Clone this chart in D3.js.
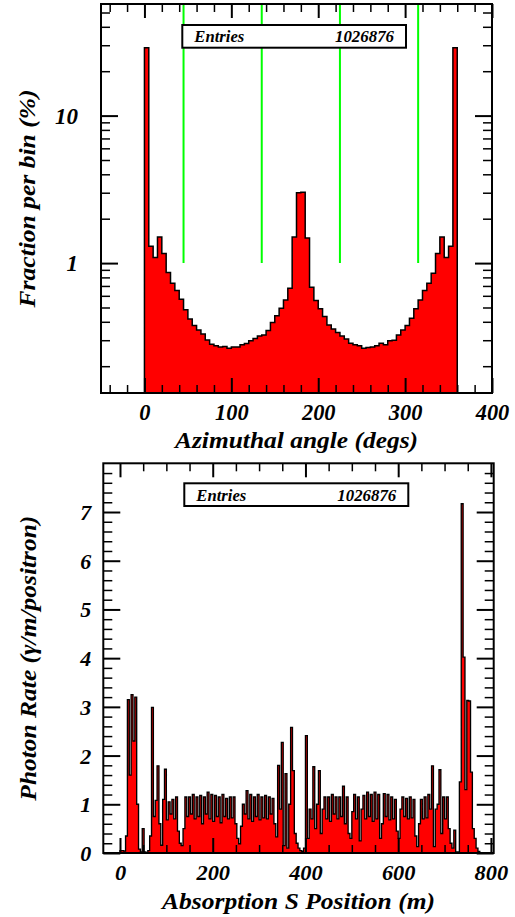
<!DOCTYPE html>
<html>
<head>
<meta charset="utf-8">
<script src="https://cdn.jsdelivr.net/npm/d3@7"></script>
<style>
  body { margin: 0; background: #fff; }
</style>
</head>
<body>
<div id="chart"></div>
<script>
// --- top: azimuthal angle, 5 deg bins from 0 to 360, fraction per bin (%)
const angleStart = 0;
const angleBinWidth = 5;
const angleFractions = [
  28.8, 1.30, 1.09, 1.50, 1.16, 0.863, 0.731, 0.652, 0.569, 0.482,
  0.417, 0.377, 0.352, 0.331, 0.301, 0.282, 0.275, 0.270, 0.272, 0.265,
  0.270, 0.270, 0.279, 0.285, 0.297, 0.308, 0.321, 0.326, 0.349, 0.395,
  0.439, 0.494, 0.563, 0.676, 1.50, 3.00, 3.02, 1.48, 0.687, 0.557,
  0.490, 0.434, 0.381, 0.358, 0.338, 0.321, 0.306, 0.286, 0.280, 0.275,
  0.265, 0.268, 0.270, 0.275, 0.286, 0.280, 0.297, 0.300, 0.326, 0.352,
  0.377, 0.423, 0.490, 0.563, 0.652, 0.731, 0.855, 1.16, 1.50, 1.09,
  1.30, 28.8
];
const angleMarkers = [45, 135, 225, 315];
const angleMarkerTop = 1;
const angleTicks = [0, 100, 200, 300, 400];
const fractionTicks = [1, 10];

// --- bottom: absorption S position, 4 m bins from 0 m, photon rate
const sStart = 0;
const sBinWidth = 4;
const photonRates = [
  0.05, 0.05, 0.04, 0.35, 3.15, 1.6, 3.25, 2.3, 3.2, 1.0,
  0.08, 0.02, 0.5, 0.02, 0.0, 0.05, 0.35, 2.99, 0.75, 1.08,
  1.79, 0.6, 0.16, 1.1, 1.72, 0.68, 1.05, 0.8, 1.1, 0.7,
  1.15, 0.45, 0.2, 0.15, 0.5, 1.15, 0.75, 1.15, 0.8, 1.2,
  0.7, 1.15, 0.75, 1.18, 0.6, 1.15, 0.8, 1.25, 0.7, 1.2,
  0.65, 1.18, 0.75, 1.15, 0.62, 1.2, 0.75, 1.12, 0.7, 1.15,
  0.72, 1.15, 0.6, 0.3, 0.19, 0.55, 1.0, 0.8, 1.28, 0.7,
  1.2, 0.65, 1.15, 0.75, 1.2, 0.68, 1.15, 0.72, 1.18, 0.7,
  1.15, 0.8, 1.12, 0.6, 0.33, 1.8, 0.9, 2.27, 0.15, 1.63,
  0.1, 1.0, 2.58, 1.69, 0.4, 0.2, 0.1, 0.05, 0.03, 0.1,
  2.41, 0.3, 0.9, 0.7, 1.77, 0.5, 1.0, 1.69, 0.4, 0.9,
  1.15, 0.7, 1.15, 0.65, 1.2, 0.8, 1.15, 0.7, 1.15, 0.75,
  1.37, 0.6, 1.15, 0.4, 0.3, 0.85, 1.2, 0.7, 1.15, 0.25,
  0.9, 1.18, 0.7, 1.25, 0.75, 1.2, 0.65, 1.25, 0.7, 1.2,
  0.3, 0.6, 1.22, 0.75, 1.2, 0.68, 1.15, 0.7, 1.1, 0.45,
  0.3, 0.9, 1.15, 0.75, 1.12, 0.7, 1.15, 0.72, 1.1, 0.35,
  0.13, 0.6, 1.1, 0.7, 1.15, 0.72, 1.2, 0.9, 1.79, 0.13,
  0.9, 1.0, 1.71, 0.4, 1.15, 0.7, 1.15, 0.5, 0.2, 0.1,
  0.47, 0.02, 0.02, 1.46, 7.17, 4.02, 1.3, 3.13, 3.12, 1.66,
  0.5, 0.3, 0.1, 0.03, 0.0
];
const sTicks = [0, 200, 400, 600, 800];
const rateTicks = [0, 1, 2, 3, 4, 5, 6, 7];

const entries = '1026876';
const serif = '"Liberation Serif", "Times New Roman", Times, "DejaVu Serif", serif';

const svg = d3.select('#chart')
  .append('svg')
  .attr('width', 515)
  .attr('height', 917)
  .attr('font-family', serif)
  .attr('font-weight', 'bold')
  .attr('font-style', 'italic');

function stepPath(values, start, w, x, y, base) {
  let d = `M${x(start)},${base}`;
  values.forEach((v, i) => {
    d += `L${x(start + i * w)},${y(v)}L${x(start + (i + 1) * w)},${y(v)}`;
  });
  return d + `L${x(start + values.length * w)},${base}Z`;
}

function styleAxis(g, width) {
  g.attr('font-family', null);
  g.select('.domain').remove();
  g.selectAll('.tick line').attr('stroke', '#000').attr('stroke-width', width);
}

// stretch a text to the width it has in the original
function fit(sel, width) {
  sel.attr('textLength', width).attr('lengthAdjust', 'spacingAndGlyphs');
}

function drawFrame(box, x, y, opts) {
  const g = svg.append('g');
  const { left, right, top, bottom } = box;

  // x axis, bottom (ticks pointing up) and top
  const xb = g.append('g').attr('transform', `translate(0,${bottom})`)
    .call(d3.axisBottom(x).tickValues(opts.xTicks).tickSize(-15).tickFormat(d3.format('d')));
  styleAxis(xb, 2);
  xb.selectAll('text')
    .attr('y', 27).attr('dy', null).attr('font-size', opts.labelSize)
    .each(function(d) { fit(d3.select(this), String(d).length * 11.2); });
  const xbm = g.append('g').attr('transform', `translate(0,${bottom})`)
    .call(d3.axisBottom(x).tickValues(opts.xMinor).tickSize(-8).tickFormat(''));
  styleAxis(xbm, 1.5);
  const xt = g.append('g').attr('transform', `translate(0,${top})`)
    .call(d3.axisTop(x).tickValues(opts.xTicks).tickSize(-14).tickFormat(''));
  styleAxis(xt, 2);
  const xtm = g.append('g').attr('transform', `translate(0,${top})`)
    .call(d3.axisTop(x).tickValues(opts.xMinor).tickSize(-8).tickFormat(''));
  styleAxis(xtm, 1.5);

  // y axis, left (ticks pointing right) and right
  const yl = g.append('g').attr('transform', `translate(${left},0)`)
    .call(d3.axisLeft(y).tickValues(opts.yTicks).tickSize(-17).tickPadding(opts.yPad).tickFormat(d3.format('d')));
  styleAxis(yl, 2);
  yl.selectAll('text').attr('font-size', opts.labelSize).attr('dy', '0.34em');
  const ylm = g.append('g').attr('transform', `translate(${left},0)`)
    .call(d3.axisLeft(y).tickValues(opts.yMinor).tickSize(-9).tickFormat(''));
  styleAxis(ylm, 1.5);
  const yr = g.append('g').attr('transform', `translate(${right},0)`)
    .call(d3.axisRight(y).tickValues(opts.yTicks).tickSize(-17).tickFormat(''));
  styleAxis(yr, 2);
  const yrm = g.append('g').attr('transform', `translate(${right},0)`)
    .call(d3.axisRight(y).tickValues(opts.yMinor).tickSize(-9).tickFormat(''));
  styleAxis(yrm, 1.5);

  g.append('rect')
    .attr('x', left).attr('y', top)
    .attr('width', right - left).attr('height', bottom - top)
    .attr('fill', 'none').attr('stroke', '#000').attr('stroke-width', 2);

  // axis titles
  g.append('text')
    .attr('x', (left + right) / 2).attr('y', opts.xTitleY)
    .attr('text-anchor', 'middle').attr('font-size', 23)
    .text(opts.xTitle)
    .call(fit, opts.xTitleW);
  g.append('text')
    .attr('transform', `translate(${opts.yTitleX},${(top + bottom) / 2}) rotate(-90)`)
    .attr('text-anchor', 'middle').attr('font-size', 23)
    .text(opts.yTitle)
    .call(fit, opts.yTitleW);

  // stats box
  const b = opts.statBox;
  g.append('rect')
    .attr('x', b.x0).attr('y', b.y0).attr('width', b.x1 - b.x0).attr('height', b.y1 - b.y0)
    .attr('fill', '#fff').attr('stroke', '#000').attr('stroke-width', 2);
  g.append('text').attr('x', b.x0 + 12).attr('y', b.y1 - 5.5).attr('font-size', 17)
    .text('Entries').call(fit, 50);
  g.append('text').attr('x', b.x1 - 12 - 59).attr('y', b.y1 - 5.5).attr('font-size', 17)
    .text(entries).call(fit, 59);
}

// ---------- top chart ----------
const topBox = { left: 101, right: 492, top: 4, bottom: 393 };
const xA = d3.scaleLinear().domain([-50, 400]).range([topBox.left, topBox.right]);
const yA = d3.scaleLog().domain([0.1316, 57.1]).range([topBox.bottom, topBox.top]);

svg.append('path')
  .attr('d', stepPath(angleFractions, angleStart, angleBinWidth, xA, yA, topBox.bottom))
  .attr('fill', '#ff0000').attr('stroke', '#000').attr('stroke-width', 1.5)
  .attr('stroke-linejoin', 'miter');

svg.append('g').selectAll('line')
  .data(angleMarkers)
  .enter()
  .append('line')
  .attr('x1', d => xA(d)).attr('x2', d => xA(d))
  .attr('y1', topBox.top).attr('y2', yA(angleMarkerTop))
  .attr('stroke', '#00ff00').attr('stroke-width', 2);

const logMinor = [];
[0.1, 1, 10].forEach(dec => d3.range(2, 10).forEach(k => {
  const v = k * dec;
  if (v > 0.1316 && v < 57.1) logMinor.push(v);
}));

drawFrame(topBox, xA, yA, {
  xTicks: angleTicks,
  xMinor: d3.range(-40, 400, 20).filter(v => v % 100 !== 0),
  yTicks: fractionTicks,
  yMinor: logMinor,
  yPad: 23,
  labelSize: 23,
  xTitle: 'Azimuthal angle (degs)',
  xTitleW: 243,
  xTitleY: 448,
  yTitle: 'Fraction per bin (%)',
  yTitleW: 218,
  yTitleX: 35,
  statBox: { x0: 182.3, x1: 406, y0: 25, y1: 47.7 }
});

// ---------- bottom chart ----------
const botBox = { left: 103.3, right: 493.7, top: 463.3, bottom: 853 };
const xS = d3.scaleLinear().domain([-36, 806]).range([botBox.left, botBox.right]);
const yS = d3.scaleLinear().domain([0, 8]).range([botBox.bottom, botBox.top]);

svg.append('path')
  .attr('d', stepPath(photonRates, sStart, sBinWidth, xS, yS, botBox.bottom))
  .attr('fill', '#ff0000').attr('stroke', '#000').attr('stroke-width', 1.35)
  .attr('stroke-linejoin', 'miter');

drawFrame(botBox, xS, yS, {
  xTicks: sTicks,
  xMinor: d3.range(0, 801, 50).filter(v => v % 200 !== 0),
  yTicks: rateTicks,
  yMinor: d3.range(0, 8.01, 0.2).map(v => +v.toFixed(1)).filter(v => Math.abs(v - Math.round(v)) > 0.01),
  yPad: 12,
  labelSize: 22,
  xTitle: 'Absorption S Position (m)',
  xTitleW: 273,
  xTitleY: 908.5,
  yTitle: 'Photon Rate (\u03b3/m/positron)',
  yTitleW: 285,
  yTitleX: 36,
  statBox: { x0: 184.3, x1: 408.3, y0: 483.3, y1: 506 }
});
</script>
</body>
</html>
